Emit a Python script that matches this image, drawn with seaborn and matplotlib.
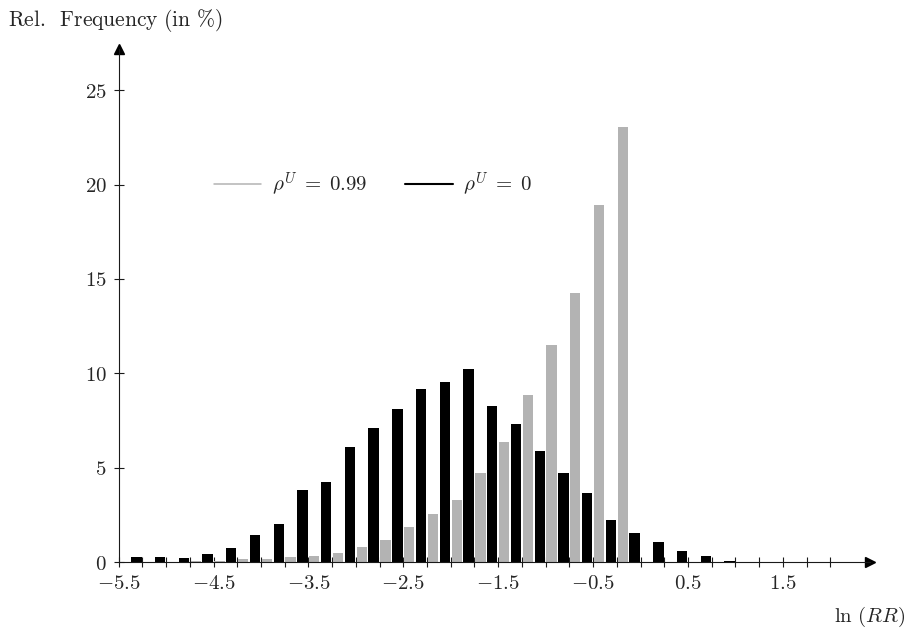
import matplotlib
matplotlib.use("Agg")
import matplotlib.pyplot as plt
from matplotlib.lines import Line2D
import numpy as np
import pandas as pd
import seaborn as sns

# Bin centres of ln(RR) (bin width 0.25)
ln_rr = [-5.25, -5.0, -4.75, -4.5, -4.25, -4.0, -3.75, -3.5, -3.25, -3.0,
         -2.75, -2.5, -2.25, -2.0, -1.75, -1.5, -1.25, -1.0, -0.75, -0.5,
         -0.25, 0.0, 0.25, 0.5, 0.75, 1.0, 1.25, 1.5, 1.75, 2.0]

# Relative frequency (in %) for rho^U = 0
freq_rho0 = [0.28, 0.28, 0.23, 0.44, 0.76, 1.44, 2.04, 3.82, 4.25, 6.11,
             7.11, 8.12, 9.20, 9.52, 10.25, 8.25, 7.30, 5.87, 4.71, 3.66,
             2.23, 1.55, 1.07, 0.60, 0.33, 0.07, 0.03, 0.02, 0.02, 0.0]

# Relative frequency (in %) for rho^U = 0.99
freq_rho099 = [0.02, 0.02, 0.05, 0.08, 0.18, 0.18, 0.28, 0.33, 0.49, 0.81,
               1.18, 1.86, 2.55, 3.29, 4.71, 6.35, 8.88, 11.50, 14.26, 18.92,
               23.04, 0.0, 0.0, 0.0, 0.0, 0.0, 0.0, 0.0, 0.0, 0.0]

series_names = [r"$\rho^U\;=\;0$", r"$\rho^U\;=\;0.99$"]
series_colors = ["#000000", "#b3b3b3"]

x_tick_values = [-5.5, -5.25, -5.0, -4.75, -4.5, -4.25, -4.0, -3.75, -3.5,
                 -3.25, -3.0, -2.75, -2.5, -2.25, -2.0, -1.75, -1.5, -1.25,
                 -1.0, -0.75, -0.5, -0.25, 0.0, 0.25, 0.5, 0.75, 1.0, 1.25,
                 1.5, 1.75, 2.0]
x_labelled = [-5.5, -4.5, -3.5, -2.5, -1.5, -0.5, 0.5, 1.5]
y_tick_values = [0, 5, 10, 15, 20, 25]

df = pd.DataFrame({
    "ln_rr": ln_rr * 2,
    "freq": freq_rho0 + freq_rho099,
    "series": [series_names[0]] * len(ln_rr) + [series_names[1]] * len(ln_rr),
})

sns.set_style("white")
plt.rcParams["mathtext.fontset"] = "cm"
plt.rcParams["font.family"] = ["DejaVu Serif"]
FS = 15

fig = plt.figure(figsize=(9.12, 6.3), dpi=100)
W, H = 912, 630
x0_px, x1_px = 118.6, 870.0
y0_px, y1_px = 562.3, 49.0
ax = fig.add_axes([x0_px / W, (H - y0_px) / H, (x1_px - x0_px) / W, (y0_px - y1_px) / H])

sns.barplot(data=df, x="ln_rr", y="freq", hue="series", hue_order=series_names,
            palette=series_colors, native_scale=True, width=1.0, gap=0.13,
            saturation=1, errorbar=None, linewidth=0, legend=False, ax=ax)

xmin = -5.5
xmax = xmin + (x1_px - x0_px) / 94.9
ymax = (y0_px - y1_px) / 18.89
ax.set_xlim(xmin, xmax)
ax.set_ylim(0, ymax)

# axis lines through the origin with arrow heads
for side in ["top", "right"]:
    ax.spines[side].set_visible(False)
for side in ["left", "bottom"]:
    ax.spines[side].set_linewidth(0.8)
    ax.spines[side].set_color("#1a1a1a")
    ax.spines[side].set_zorder(3)
ax.plot(1, 0, marker=">", ms=7, color="black", transform=ax.transAxes, clip_on=False)
ax.plot(0, 1, marker="^", ms=7, color="black", transform=ax.transAxes, clip_on=False)

ax.set_xticks(x_tick_values)
ax.set_xticklabels([("$%.1f$" % v) if v in x_labelled else "" for v in x_tick_values])
ax.set_yticks(y_tick_values)
ax.set_yticklabels(["$%d$" % v for v in y_tick_values])
ax.tick_params(axis="both", direction="inout", length=7, width=0.8, color="#1a1a1a",
               labelsize=FS, bottom=True, left=True)
ax.tick_params(axis="x", pad=5)
ax.tick_params(axis="y", pad=5)
ax.set_xlabel("")
ax.set_ylabel("")

fig.text(8 / W, 1 - 20 / H, r"$\mathrm{Rel.\;\;Frequency\ (in\ \%)}$", fontsize=15.5,
         ha="left", va="center")
fig.text(905 / W, 1 - 617 / H, r"$\ln\,(RR)$", fontsize=FS, ha="right", va="center")

handles = [Line2D([], [], color=series_colors[1], lw=1.1),
           Line2D([], [], color=series_colors[0], lw=1.5)]
ax.legend(handles, [series_names[1], series_names[0]], ncol=2, frameon=False,
          loc="center left", bbox_to_anchor=(-4.5, 20), bbox_transform=ax.transData,
          borderaxespad=0, borderpad=0, fontsize=FS, handlelength=2.3,
          handletextpad=0.5, columnspacing=1.8)

fig.savefig("out.png", dpi=100)
